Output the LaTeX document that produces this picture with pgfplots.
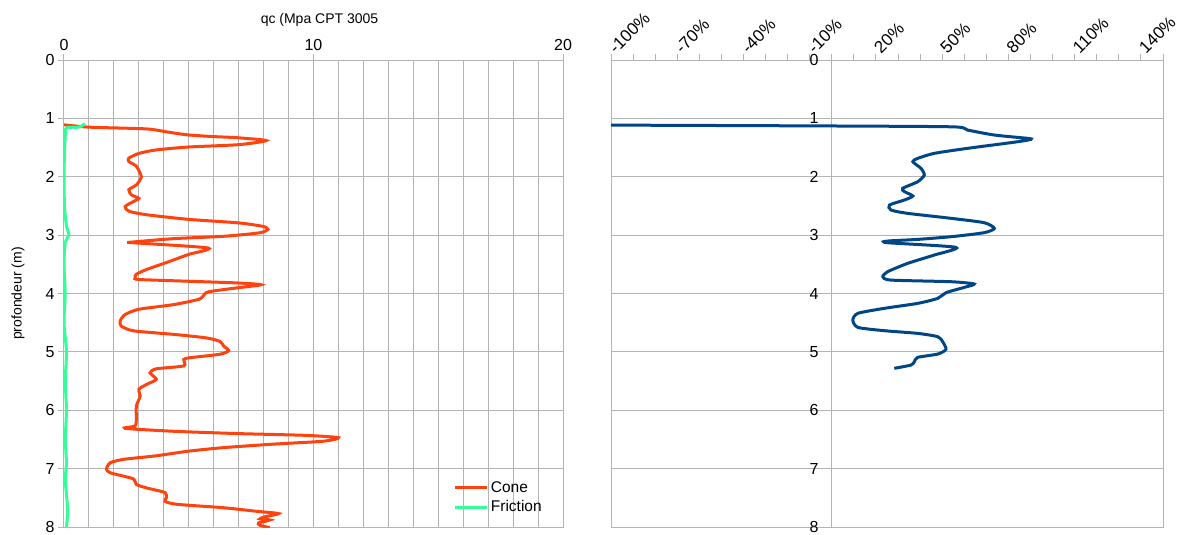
\documentclass[border=0pt]{standalone}
\usepackage{fontspec}
\setmainfont{Liberation Sans}
\usepackage{pgfplots}
\pgfplotsset{compat=1.18}

\definecolor{conec}{HTML}{FF420E}
\definecolor{fricc}{HTML}{33FF99}
\definecolor{bluec}{HTML}{004586}
\definecolor{gridc}{HTML}{B3B3B3}

\pgfplotsset{
  cpt/.style={
    scale only axis, height=467pt,
    ymin=0, ymax=8, y dir=reverse, ytick={0,...,8},
    /pgf/number format/assume math mode=true,
    axis line style={gridc, line width=1pt},
    tick style={gridc, line width=1pt},
    tick align=outside,
    tick label style={font=\fontsize{16}{18}\selectfont},
    label style={font=\fontsize{14}{16}\selectfont},
  },
}

\begin{document}
\begin{tikzpicture}
\path[use as bounding box] (0,0) rectangle (1187pt,-535pt);

% left: cone and friction
\begin{axis}[cpt,
  at={(64pt,-527pt)}, anchor=south west, width=499pt,
  xmin=0, xmax=20, xtick={0,10,20}, minor xtick={1,...,19},
  xticklabel pos=right, xtick pos=right, ytick pos=left,
  major tick length=6pt, minor tick length=0pt,
  grid=both, grid style={gridc, line width=1pt},
  minor grid style={gridc, line width=1pt},
  xlabel={qc (Mpa CPT 3005},
  xlabel style={at={(axis description cs:0.5,1)}, anchor=center, yshift=40.5pt, xshift=6pt},
  ylabel={profondeur (m)},
  ylabel style={at={(axis description cs:-0.092,0.5)}, anchor=center},
  legend style={at={(axis description cs:0.775,0.02)}, anchor=south west, draw=none, fill=none,
    font=\fontsize{15.5}{17}\selectfont, row sep=3pt},
  legend cell align=left,
  legend image code/.code={\draw[#1] (0pt,0pt) -- (32pt,0pt);},
]
\addplot[conec, line width=3pt, smooth, tension=0.4] coordinates {
(0,1.11) (1.0,1.15) (3.3,1.18) (4.1,1.23) (4.9,1.28) (5.9,1.31) (6.9,1.33) (8.1,1.38)
(7.0,1.45) (5.0,1.49) (3.7,1.54) (3.0,1.6) (2.6,1.68) (2.6,1.74) (2.9,1.82) (3.1,2.0)
(2.9,2.14) (2.6,2.22) (2.7,2.31) (3.0,2.37) (2.8,2.42) (2.45,2.51) (2.6,2.59) (3.3,2.65)
(5.0,2.73) (7.0,2.79) (7.97,2.85) (8.17,2.9) (7.84,2.96) (6.4,3.02) (4.4,3.06) (2.7,3.12)
(2.75,3.13) (5.77,3.22) (5.0,3.33) (4.1,3.47) (3.3,3.59) (2.9,3.67) (2.85,3.73) (3.0,3.76)
(5.0,3.79) (7.0,3.82) (7.9,3.85) (7.0,3.9) (5.8,3.97) (5.6,4.03) (5.4,4.10) (4.4,4.19)
(3.0,4.27) (2.45,4.36) (2.25,4.47) (2.3,4.56) (2.8,4.64) (4.4,4.70) (5.7,4.76) (6.25,4.82)
(6.4,4.90) (6.6,4.98) (6.25,5.04) (5.05,5.10) (4.8,5.13) (4.8,5.24) (3.7,5.29) (3.45,5.36)
(3.7,5.47) (3.3,5.56) (3.0,5.64) (3.05,5.76) (2.9,5.93) (2.9,6.16) (2.85,6.27) (2.45,6.31)
(4.4,6.36) (7.0,6.40) (9.7,6.43) (11.0,6.47) (10.4,6.53) (8.4,6.58) (6.4,6.64) (5.0,6.70)
(3.7,6.78) (2.4,6.84) (1.85,6.90) (1.7,7.01) (1.85,7.07) (2.4,7.13) (2.8,7.18) (2.9,7.27)
(3.3,7.33) (4.05,7.41) (4.1,7.50) (4.05,7.56) (4.5,7.61) (6.4,7.67) (7.7,7.73) (8.6,7.77)
(8.1,7.82) (7.85,7.86) (8.25,7.88) (7.8,7.93) (7.85,7.97) (8.25,8.01)
};
\addlegendentry{Cone}
\addplot[fricc, line width=3pt, smooth, tension=0.4] coordinates {
(0.84,1.09) (0.6,1.15) (0.1,1.16) (0.05,1.3) (0.02,1.6) (0.0,2.0) (0.02,2.5) (0.1,2.85)
(0.2,3.0) (0.05,3.12) (0.0,3.5) (0.05,4.0) (0.0,4.5) (0.1,5.0) (0.05,5.5) (0.1,6.0)
(0.05,6.5) (0.1,6.9) (0.05,7.2) (0.15,7.7) (0.1,8.0)
};
\addlegendentry{Friction}
\end{axis}

% right: percentage
\begin{axis}[cpt,
  at={(611pt,-527pt)}, anchor=south west, width=552pt,
  xmin=-100, xmax=150,
  xtick={-100,-70,...,140}, minor xtick={-100,-90,...,150},
  xticklabels={-100\%,-70\%,-40\%,-10\%,20\%,50\%,80\%,110\%,140\%},
  xticklabel pos=right, xtick pos=right,
  xticklabel style={rotate=45, anchor=west, yshift=2pt, font=\fontsize{17}{19}\selectfont},
  major tick length=6pt, minor tick length=6pt,
  ymajorgrids, grid style={gridc, line width=1pt},
  ytick style={draw=none},
  yticklabel style={anchor=east, xshift=217pt},
  extra x ticks={0}, extra x tick labels={},
  extra x tick style={grid=major},
  clip=true,
]
\addplot[bluec, line width=3pt, smooth, tension=0.4] coordinates {
(-100,1.115) (0,1.13) (55,1.145) (61.5,1.2) (73.6,1.285) (88.7,1.342) (90.2,1.359)
(84.2,1.40) (61.5,1.513) (46.4,1.599) (38.9,1.685) (36.7,1.742) (40.4,1.856) (41.9,1.97)
(38.9,2.085) (32.1,2.198) (32.9,2.255) (36.7,2.33) (32.9,2.398) (26.1,2.484) (26.8,2.57)
(34.4,2.627) (54,2.712) (69,2.787) (73.6,2.884) (69,2.958) (54,3.027) (38.9,3.073)
(25.3,3.101) (25.3,3.13) (56.2,3.209) (46.4,3.341) (34.4,3.483) (25.3,3.626) (23.1,3.712)
(26.8,3.77) (54,3.798) (64.5,3.837) (60,3.895) (51.7,3.986) (48,4.083) (38.9,4.169)
(23.8,4.254) (11.8,4.34) (9.5,4.454) (11.8,4.58) (23.8,4.637) (38.9,4.683) (48,4.74)
(50.2,4.825) (51.7,4.957) (48,5.037) (38.9,5.094) (37.4,5.168) (35.9,5.225) (28.3,5.282)
};
\end{axis}
\end{tikzpicture}
\end{document}
